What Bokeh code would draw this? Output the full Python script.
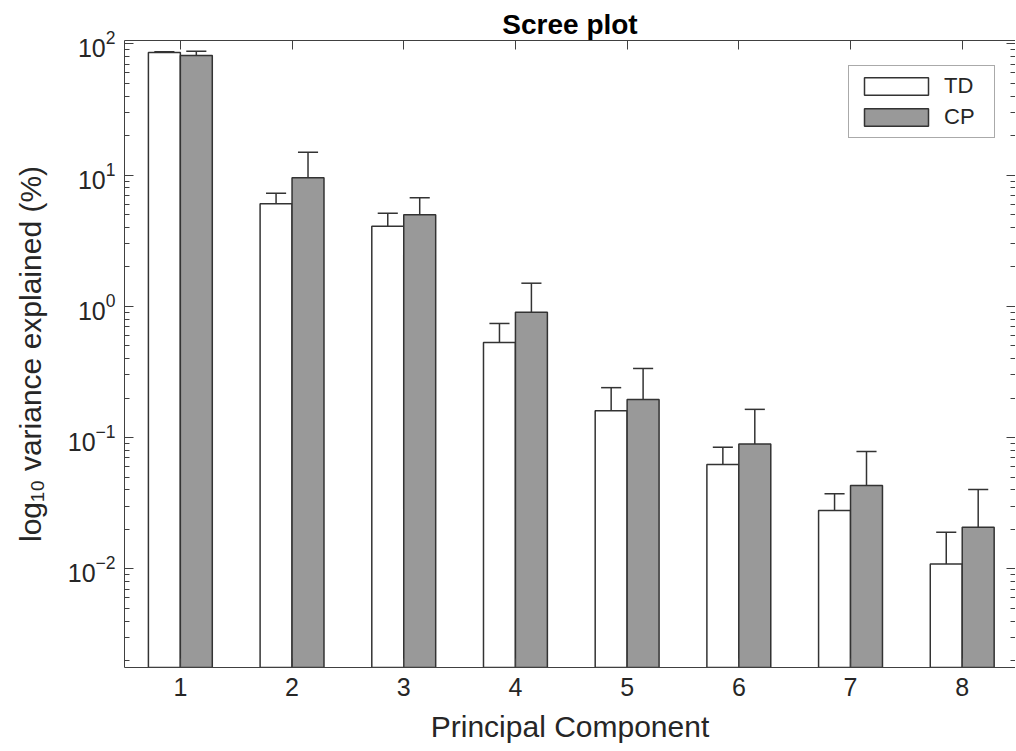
import numpy as np
from bokeh.plotting import figure
from bokeh.models import (Range1d, FixedTicker, LogAxis, LinearAxis, CustomJSTickFormatter,
                          Legend, LegendItem, ColumnDataSource)
from bokeh.embed import file_html
from bokeh.resources import INLINE

# ---- data ----
components = [1, 2, 3, 4, 5, 6, 7, 8]
td_mean = [86.0, 6.04, 4.07, 0.53, 0.160, 0.0624, 0.0278, 0.0109]
td_err = [1.0, 1.24, 1.05, 0.21, 0.080, 0.022, 0.0095, 0.0081]
cp_mean = [81.5, 9.53, 4.98, 0.90, 0.195, 0.0895, 0.0431, 0.0207]
cp_err = [6.3, 5.4, 1.73, 0.60, 0.141, 0.0745, 0.0352, 0.0195]
series_names = ["TD", "CP"]
x_ticks = [1, 2, 3, 4, 5, 6, 7, 8]
y_major = [1e-2, 1e-1, 1e0, 1e1, 1e2]

FONT = "Liberation Sans"
TXT = "#262626"
AX = "#404040"
EDGE = "#333333"

bar_w = 0.286
off = 0.143
cap_w = 0.18

p = figure(width=1015, height=751, y_axis_type="log",
           x_range=Range1d(0.5, 8.477), y_range=Range1d(0.00177, 106),
           output_backend="svg", toolbar_location=None,
           min_border_left=124, min_border_right=0, min_border_top=40, min_border_bottom=84)
p.xgrid.grid_line_color = None
p.ygrid.grid_line_color = None
p.outline_line_color = None
p.background_fill_color = "white"
p.border_fill_color = "white"

p.title.text = "Scree plot"
p.title.align = "center"
p.title.text_font = FONT
p.title.text_font_size = "28px"
p.title.text_font_style = "bold"
p.title.text_color = "black"
p.title.standoff = 2

x = np.array(components, dtype=float)
td_src = ColumnDataSource(dict(x=x - off, top=td_mean, hi=np.array(td_mean) + np.array(td_err)))
cp_src = ColumnDataSource(dict(x=x + off, top=cp_mean, hi=np.array(cp_mean) + np.array(cp_err)))

r_td = p.vbar(x="x", top="top", bottom=1e-5, width=bar_w, source=td_src,
              fill_color="white", line_color=EDGE, line_width=1.5)
r_cp = p.vbar(x="x", top="top", bottom=1e-5, width=bar_w, source=cp_src,
              fill_color="#999999", line_color=EDGE, line_width=1.5)

for src in (td_src, cp_src):
    xs = np.array(src.data["x"])
    p.segment(x0=xs, y0=src.data["top"], x1=xs, y1=src.data["hi"], line_color=EDGE, line_width=1.5)
    p.segment(x0=xs - cap_w / 2, y0=src.data["hi"], x1=xs + cap_w / 2, y1=src.data["hi"],
              line_color=EDGE, line_width=1.5)

minor = [m * 10.0 ** k for k in range(-3, 2) for m in range(2, 10)]
yticker = FixedTicker(ticks=y_major, minor_ticks=minor)
xticker = FixedTicker(ticks=x_ticks)

def style(ax, labels=True):
    ax.axis_line_color = AX
    ax.axis_line_width = 1
    ax.major_tick_line_color = AX
    ax.minor_tick_line_color = AX
    ax.major_tick_in = 9
    ax.major_tick_out = 0
    ax.minor_tick_in = 5
    ax.minor_tick_out = 0
    ax.major_label_text_font = FONT
    ax.major_label_text_font_size = "25px"
    ax.major_label_text_color = TXT
    ax.axis_label_text_font = FONT
    ax.axis_label_text_font_size = "30px"
    ax.axis_label_text_font_style = "normal"
    ax.axis_label_text_color = TXT
    if not labels:
        ax.formatter = CustomJSTickFormatter(code="return ''")
        ax.major_label_standoff = 0

xa = p.xaxis[0]
xa.ticker = xticker
style(xa)
xa.major_label_standoff = 10
xa.axis_label = "Principal Component"
xa.axis_label_standoff = 11

ya = p.yaxis[0]
ya.ticker = yticker
style(ya)
ya.major_label_standoff = 9
ya.axis_label = "log\u2081\u2080 variance explained (%)"
ya.axis_label_standoff = 18

top_ax = LinearAxis(ticker=xticker)
style(top_ax, labels=False)
p.add_layout(top_ax, "above")
right_ax = LogAxis(ticker=yticker)
style(right_ax, labels=False)
p.add_layout(right_ax, "right")

legend = Legend(items=[LegendItem(label=series_names[0], renderers=[r_td]),
                       LegendItem(label=series_names[1], renderers=[r_cp])],
                location=(724, 529), glyph_width=80, glyph_height=22, label_height=22,
                label_width=43, padding=7, spacing=5, label_standoff=8, margin=0,
                label_text_font=FONT, label_text_font_size="22px", label_text_color=TXT,
                border_line_color="#555555", border_line_width=1, background_fill_alpha=1)
p.add_layout(legend, "center")

open("out.html", "w").write(file_html(p, INLINE))
